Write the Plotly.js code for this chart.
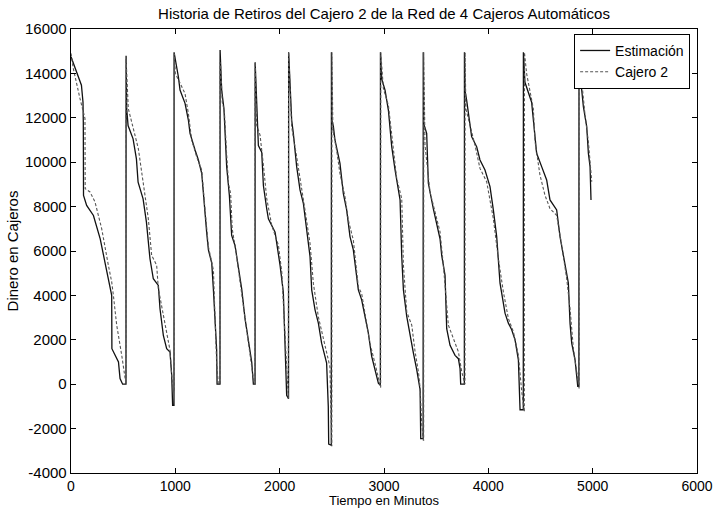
<!DOCTYPE html>
<html>
<head>
<meta charset="utf-8">
<script src="https://cdn.plot.ly/plotly-3.0.1.min.js"></script>
<style>
html,body{margin:0;padding:0;background:#fff;}
#chart{width:714px;height:508px;}
</style>
</head>
<body>
<div id="chart"></div>
<script>
// Estimación (solid)
const estT = [
  0,55,100,115,118,120,150,215,280,325,360,390,392,455,470,495,527,
  528,534,547,595,627,643,691,723,757,789,837,853,885,917,949,965,974,987,
  988,1013,1029,1045,1093,1125,1141,1189,1221,1253,1269,1301,1317,1349,1365,1380,1396,1400,1428,
  1429,1444,1466,1492,1518,1540,1572,1604,1636,1668,1700,1732,1748,1764,
  1765,1796,1828,1844,1876,1892,1956,2004,2035,2051,2067,2085,
  2086,2115,2131,2163,2195,2227,2259,2291,2307,2339,2371,2402,2434,2450,2466,2470,2495,
  2496,2500,2515,2530,2578,2610,2642,2674,2706,2738,2754,2786,2818,2850,2882,2914,2946,2965,
  2966,2978,3010,3042,3074,3106,3154,3170,3186,3218,3250,3282,3314,3346,3352,3375,
  3376,3380,3409,3425,3473,3505,3537,3553,3585,3601,3633,3681,3713,3729,3735,3770,
  3771,3776,3792,3840,3888,3920,3968,4016,4048,4080,4112,4160,4192,4224,4256,4288,4304,4335,
  4336,4351,4415,4447,4463,4511,4559,4591,4655,4687,4735,4767,4783,4799,4831,4847,4857,4868,
  4869,4875,4895,4911,4943,4959,4975,4984
];
const estV = [
  14750,14070,13470,12700,11800,8500,8050,7600,6550,5500,4750,4000,1600,1000,250,0,0,
  14800,12400,11650,11050,10150,9100,8350,7300,5650,4750,4450,3400,2200,1600,1450,400,-950,-950,
  14950,14300,13850,13250,12650,11900,11300,10550,10100,9500,8450,6800,6050,5450,4250,2750,1550,0,0,
  15050,13250,12400,9800,8500,6700,6250,5200,4300,2950,2050,1000,0,0,
  14500,10750,10450,8950,7900,7450,6850,5350,4150,1300,-500,-650,
  14950,11900,11300,9800,8750,8150,6950,5750,4250,3350,2750,1850,1250,950,-1000,-2700,-2750,
  14950,11900,11600,11000,9950,8600,7850,6650,6050,4850,4250,3800,3050,2300,1250,650,50,-50,
  14950,13750,13250,12350,10700,9650,8300,5750,4250,3050,2150,1400,650,-250,-2450,-2450,
  14950,11750,11300,9050,7900,7150,6550,5800,4900,2500,1750,1300,1150,700,0,0,
  14950,13250,12800,11150,10700,10100,9650,8900,7850,6650,4550,3200,2750,2450,2000,1100,-1150,-1150,
  14950,13600,12700,11350,10400,9800,9200,8300,7850,6650,5450,4550,2750,1850,1100,350,-100,-100,
  14650,14000,13250,12500,11600,10400,9800,8300
];
// Cajero 2 (dashed)
const cajT = [
  0,22,86,134,136,182,230,294,358,390,406,438,486,518,527,
  528,549,581,645,677,725,741,773,821,837,885,917,949,965,981,990,
  991,1000,1029,1093,1125,1157,1205,1253,1285,1317,1365,1380,1396,1412,1428,
  1429,1435,1450,1470,1490,1510,1530,1545,1580,1610,1645,1675,1710,1740,1755,1764,
  1765,1780,1812,1844,1876,1924,1988,2020,2045,2067,2083,
  2086,2115,2163,2195,2243,2291,2323,2371,2418,2450,2482,2490,2495,2500,
  2501,2510,2546,2578,2626,2658,2706,2754,2786,2834,2866,2914,2962,2968,
  2969,2994,3042,3090,3122,3170,3186,3218,3266,3298,3330,3346,3362,3377,3380,
  3381,3393,3441,3489,3537,3569,3617,3665,3713,3745,3776,
  3777,3785,3824,3872,3920,3984,4048,4096,4144,4192,4240,4288,4320,4342,4345,
  4346,4367,4431,4448,4495,4543,4591,4655,4703,4751,4783,4815,4847,4863,4870,
  4871,4879,4927,4959,4991
];
const cajV = [
  14900,14220,12870,11970,8810,8660,8210,7010,5360,4610,4010,2660,1310,260,0,
  14670,12420,11820,10620,9570,8060,7460,5810,5360,4310,3110,2210,1530,410,-350,-350,
  14900,14000,13700,13090,12190,10990,10240,9640,7840,6190,5140,3490,940,0,0,
  14500,14300,12700,12300,10500,9000,8600,7000,6000,5000,3900,2700,1700,700,0,0,
  14500,11670,11220,9870,8360,7160,6260,5060,2660,410,-640,
  14950,11590,10240,9190,7840,6340,4540,3030,2130,1530,780,-1000,-2800,-2800,
  14950,11450,10540,9490,8440,7390,6490,4380,4080,2730,1830,930,-50,-150,
  14950,13320,12570,10470,9260,8360,5360,3260,2660,1460,560,-190,-1840,-2520,-2520,
  14950,10770,8660,7760,6860,5360,2660,2060,1460,560,0,
  14950,12400,11670,10770,9720,9120,7460,5660,4160,2960,2360,1310,-340,-1240,-1240,
  14950,13990,12420,10920,9420,8510,7910,7610,6260,4760,3410,1610,560,-190,-190,
  14800,14370,12120,10920,9120
];
const seriesNames = ['Estimación', 'Cajero 2'];
const xTickVals = [0,1000,2000,3000,4000,5000,6000];
const xTickText = ['0','1000','2000','3000','4000','5000','6000'];
const yTickVals = [-4000,-2000,0,2000,4000,6000,8000,10000,12000,14000,16000];
const yTickText = ['-4000','-2000','0','2000','4000','6000','8000','10000','12000','14000','16000'];
const chartTitle = 'Historia de Retiros del Cajero 2 de la Red de 4 Cajeros Automáticos';
const xTitle = 'Tiempo en Minutos';
const yTitle = 'Dinero en Cajeros';

const FONT = 'Liberation Sans, Arial, Helvetica, sans-serif';

const traces = [
  {x: estT, y: estV, name: seriesNames[0], type: 'scatter', mode: 'lines',
   line: {color: '#111', width: 1.3}},
  {x: cajT, y: cajV, name: seriesNames[1], type: 'scatter', mode: 'lines',
   line: {color: '#555', width: 1.1, dash: '3px,2px'}}
];

const axisCommon = {
  showline: true, mirror: 'ticks', linecolor: '#000', linewidth: 1.3,
  ticks: 'inside', ticklen: 5, tickcolor: '#000', tickwidth: 1,
  showgrid: false, zeroline: false,
  tickfont: {family: FONT, size: 15, color: '#000'}
};

const layout = {
  width: 714, height: 508,
  margin: {l: 71, r: 17, t: 29, b: 35},
  paper_bgcolor: '#fff', plot_bgcolor: '#fff',
  font: {family: FONT, size: 12, color: '#000'},
  title: {text: chartTitle, font: {family: FONT, size: 15, color: '#000'},
          x: 0.5, xref: 'paper', y: 1 - 14/508, yref: 'container', yanchor: 'middle'},
  xaxis: Object.assign({}, axisCommon, {
    range: [0, 6000], tickmode: 'array', tickvals: xTickVals, ticktext: xTickText,
    ticklabelstandoff: 0,
    tickfont: {family: FONT, size: 14, color: '#000'},
    title: {text: xTitle, standoff: 2, font: {family: FONT, size: 13, color: '#000'}}
  }),
  yaxis: Object.assign({}, axisCommon, {
    range: [-4000, 16000], tickmode: 'array', tickvals: yTickVals, ticktext: yTickText,
    title: {text: yTitle, standoff: 2, font: {family: FONT, size: 15, color: '#000'}}
  }),
  showlegend: true,
  legend: {x: 0.989, y: 0.989, xanchor: 'right', yanchor: 'top',
           bgcolor: '#fff', bordercolor: '#000', borderwidth: 1,
           font: {family: FONT, size: 14, color: '#000'},
           itemwidth: 30, tracegroupgap: 0}
};

Plotly.newPlot('chart', traces, layout, {staticPlot: true, displayModeBar: false});
</script>
</body>
</html>
